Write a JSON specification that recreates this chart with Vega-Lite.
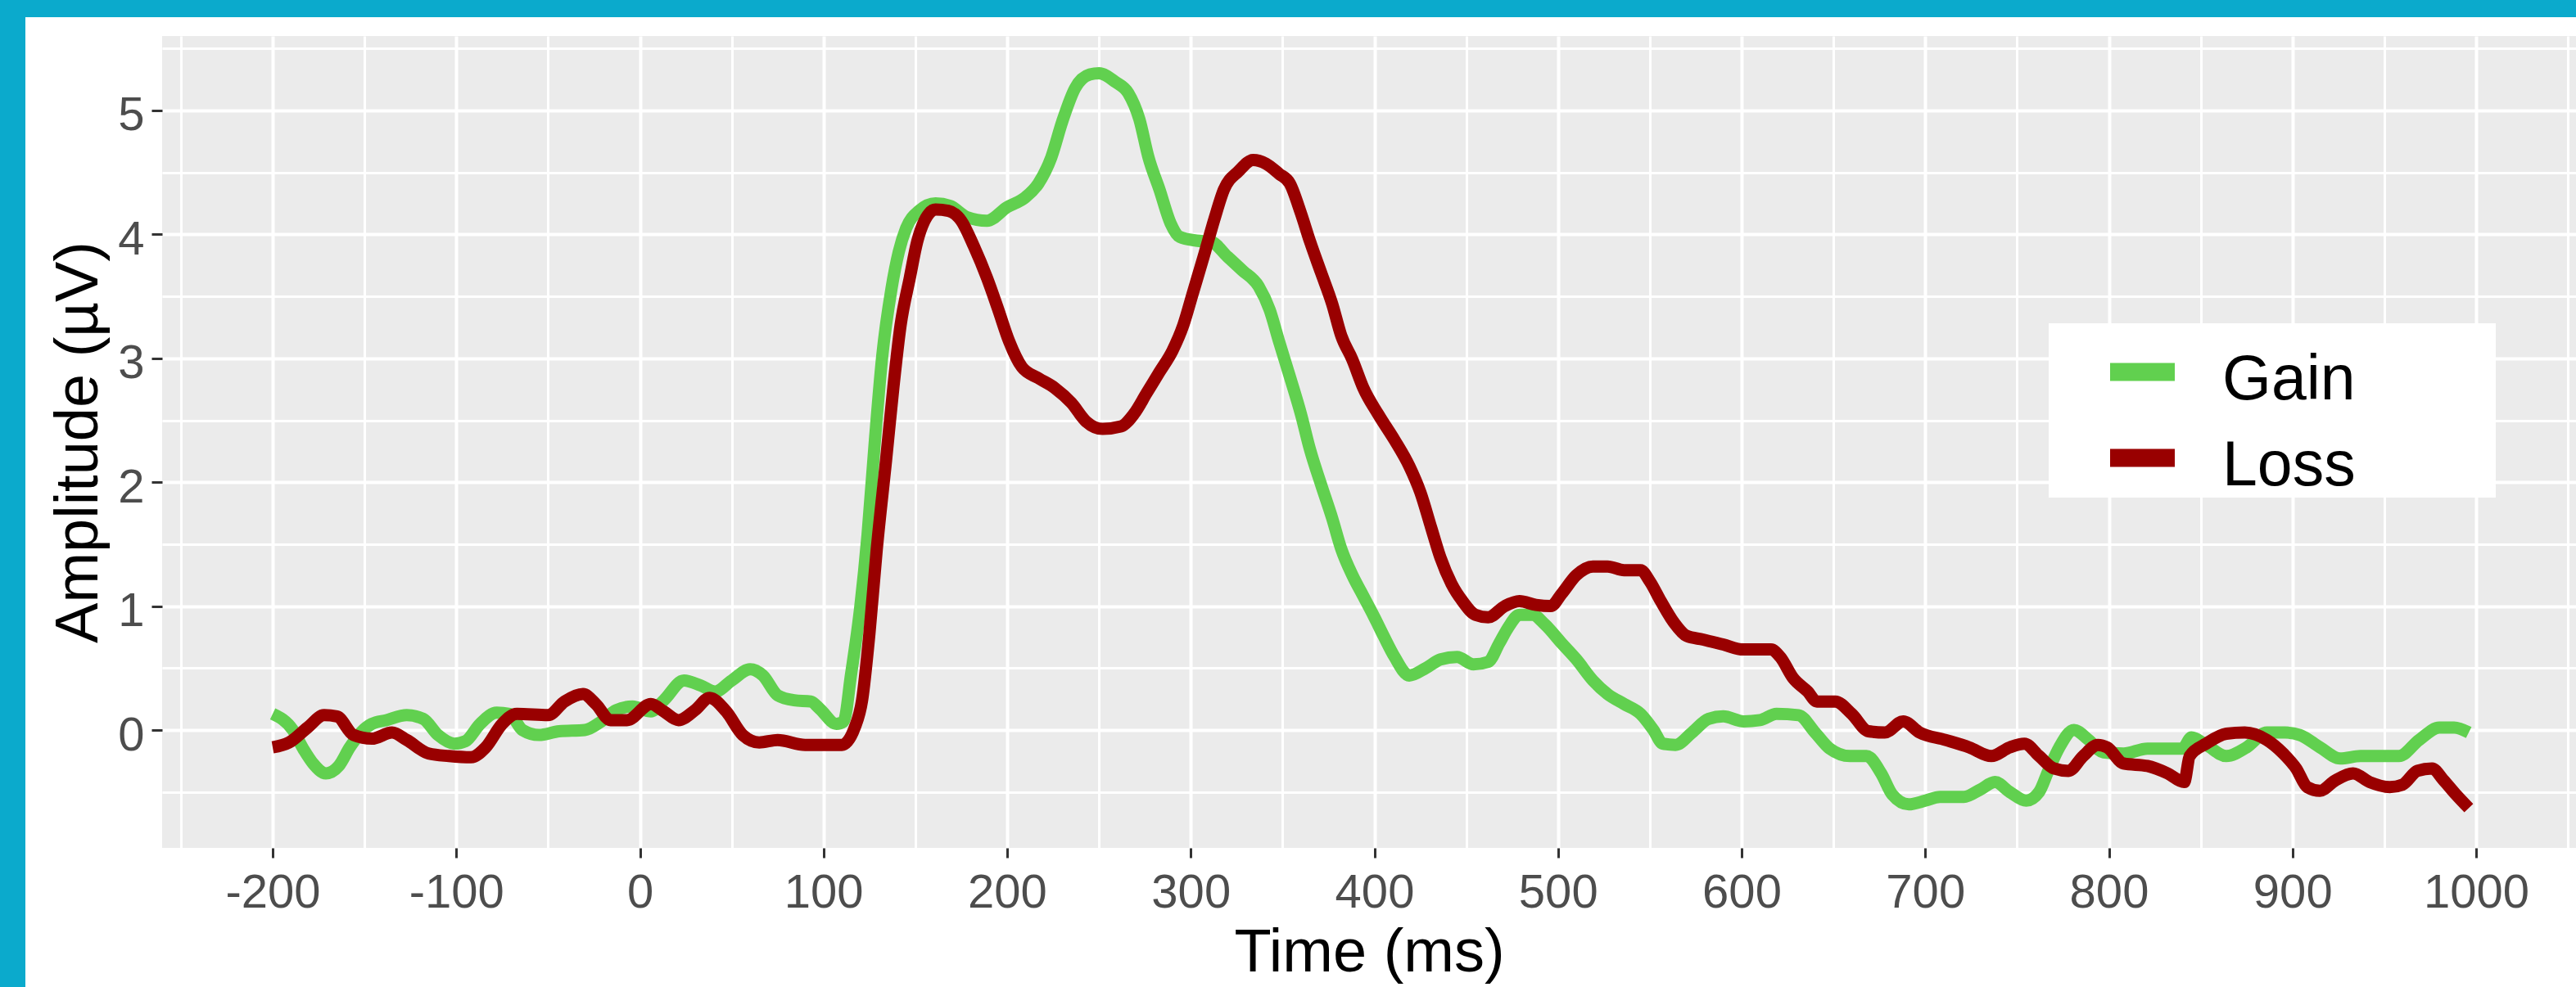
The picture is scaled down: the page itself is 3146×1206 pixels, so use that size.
{
  "$schema": "https://vega.github.io/schema/vega-lite/v6.json",
  "width": 2948,
  "height": 992,
  "autosize": "none",
  "padding": {"left": 198, "top": 44, "right": 0, "bottom": 170},
  "background": "white",
  "config": {
    "view": {"fill": "#EBEBEB", "stroke": null},
    "font": "Liberation Sans"
  },
  "datasets": {
    "erp": [
      {"c":"Gain","t":-200,"v":0.13},{"c":"Gain","t":-189,"v":0.00},{"c":"Gain","t":-183,"v":-0.16},{"c":"Gain","t":-178,"v":-0.27},{"c":"Gain","t":-171,"v":-0.35},{"c":"Gain","t":-164,"v":-0.29},{"c":"Gain","t":-158,"v":-0.14},{"c":"Gain","t":-152,"v":-0.02},{"c":"Gain","t":-146,"v":0.05},{"c":"Gain","t":-138,"v":0.08},{"c":"Gain","t":-127,"v":0.12},{"c":"Gain","t":-118,"v":0.09},{"c":"Gain","t":-110,"v":-0.04},{"c":"Gain","t":-101,"v":-0.11},{"c":"Gain","t":-95,"v":-0.09},{"c":"Gain","t":-87,"v":0.05},{"c":"Gain","t":-78,"v":0.14},{"c":"Gain","t":-71,"v":0.13},{"c":"Gain","t":-64,"v":0.00},{"c":"Gain","t":-55,"v":-0.04},{"c":"Gain","t":-44,"v":-0.01},{"c":"Gain","t":-30,"v":0.00},{"c":"Gain","t":-21,"v":0.07},{"c":"Gain","t":-13,"v":0.16},{"c":"Gain","t":-4,"v":0.19},{"c":"Gain","t":6,"v":0.15},{"c":"Gain","t":13,"v":0.24},{"c":"Gain","t":24,"v":0.40},{"c":"Gain","t":33,"v":0.36},{"c":"Gain","t":41,"v":0.31},{"c":"Gain","t":50,"v":0.40},{"c":"Gain","t":60,"v":0.49},{"c":"Gain","t":67,"v":0.44},{"c":"Gain","t":75,"v":0.28},{"c":"Gain","t":84,"v":0.24},{"c":"Gain","t":93,"v":0.23},{"c":"Gain","t":98,"v":0.17},{"c":"Gain","t":107,"v":0.05},{"c":"Gain","t":111,"v":0.07},{"c":"Gain","t":115,"v":0.45},{"c":"Gain","t":120,"v":0.99},{"c":"Gain","t":124,"v":1.58},{"c":"Gain","t":128,"v":2.34},{"c":"Gain","t":132,"v":3.02},{"c":"Gain","t":137,"v":3.56},{"c":"Gain","t":141,"v":3.86},{"c":"Gain","t":145,"v":4.05},{"c":"Gain","t":152,"v":4.19},{"c":"Gain","t":161,"v":4.25},{"c":"Gain","t":169,"v":4.23},{"c":"Gain","t":178,"v":4.14},{"c":"Gain","t":189,"v":4.11},{"c":"Gain","t":200,"v":4.22},{"c":"Gain","t":210,"v":4.30},{"c":"Gain","t":217,"v":4.41},{"c":"Gain","t":224,"v":4.62},{"c":"Gain","t":230,"v":4.91},{"c":"Gain","t":237,"v":5.18},{"c":"Gain","t":245,"v":5.29},{"c":"Gain","t":250,"v":5.30},{"c":"Gain","t":259,"v":5.23},{"c":"Gain","t":266,"v":5.14},{"c":"Gain","t":272,"v":4.93},{"c":"Gain","t":277,"v":4.62},{"c":"Gain","t":283,"v":4.36},{"c":"Gain","t":289,"v":4.09},{"c":"Gain","t":294,"v":3.98},{"c":"Gain","t":303,"v":3.95},{"c":"Gain","t":311,"v":3.94},{"c":"Gain","t":320,"v":3.82},{"c":"Gain","t":328,"v":3.71},{"c":"Gain","t":337,"v":3.58},{"c":"Gain","t":343,"v":3.39},{"c":"Gain","t":348,"v":3.14},{"c":"Gain","t":354,"v":2.85},{"c":"Gain","t":360,"v":2.55},{"c":"Gain","t":365,"v":2.26},{"c":"Gain","t":371,"v":1.98},{"c":"Gain","t":377,"v":1.71},{"c":"Gain","t":382,"v":1.46},{"c":"Gain","t":388,"v":1.25},{"c":"Gain","t":394,"v":1.08},{"c":"Gain","t":400,"v":0.91},{"c":"Gain","t":405,"v":0.76},{"c":"Gain","t":411,"v":0.59},{"c":"Gain","t":419,"v":0.44},{"c":"Gain","t":428,"v":0.50},{"c":"Gain","t":436,"v":0.57},{"c":"Gain","t":445,"v":0.59},{"c":"Gain","t":454,"v":0.53},{"c":"Gain","t":462,"v":0.55},{"c":"Gain","t":468,"v":0.70},{"c":"Gain","t":473,"v":0.83},{"c":"Gain","t":479,"v":0.93},{"c":"Gain","t":486,"v":0.93},{"c":"Gain","t":493,"v":0.85},{"c":"Gain","t":502,"v":0.70},{"c":"Gain","t":510,"v":0.57},{"c":"Gain","t":519,"v":0.40},{"c":"Gain","t":527,"v":0.29},{"c":"Gain","t":536,"v":0.21},{"c":"Gain","t":545,"v":0.13},{"c":"Gain","t":552,"v":0.00},{"c":"Gain","t":557,"v":-0.11},{"c":"Gain","t":564,"v":-0.12},{"c":"Gain","t":573,"v":-0.02},{"c":"Gain","t":582,"v":0.09},{"c":"Gain","t":590,"v":0.11},{"c":"Gain","t":601,"v":0.07},{"c":"Gain","t":610,"v":0.08},{"c":"Gain","t":619,"v":0.13},{"c":"Gain","t":631,"v":0.12},{"c":"Gain","t":640,"v":-0.02},{"c":"Gain","t":648,"v":-0.15},{"c":"Gain","t":659,"v":-0.21},{"c":"Gain","t":668,"v":-0.21},{"c":"Gain","t":676,"v":-0.35},{"c":"Gain","t":682,"v":-0.52},{"c":"Gain","t":691,"v":-0.60},{"c":"Gain","t":700,"v":-0.57},{"c":"Gain","t":708,"v":-0.54},{"c":"Gain","t":721,"v":-0.54},{"c":"Gain","t":730,"v":-0.48},{"c":"Gain","t":738,"v":-0.42},{"c":"Gain","t":746,"v":-0.50},{"c":"Gain","t":755,"v":-0.57},{"c":"Gain","t":762,"v":-0.50},{"c":"Gain","t":767,"v":-0.33},{"c":"Gain","t":773,"v":-0.14},{"c":"Gain","t":781,"v":0.00},{"c":"Gain","t":789,"v":-0.08},{"c":"Gain","t":797,"v":-0.18},{"c":"Gain","t":808,"v":-0.19},{"c":"Gain","t":821,"v":-0.15},{"c":"Gain","t":840,"v":-0.15},{"c":"Gain","t":845,"v":-0.06},{"c":"Gain","t":853,"v":-0.12},{"c":"Gain","t":864,"v":-0.21},{"c":"Gain","t":875,"v":-0.14},{"c":"Gain","t":886,"v":-0.02},{"c":"Gain","t":896,"v":-0.02},{"c":"Gain","t":904,"v":-0.04},{"c":"Gain","t":915,"v":-0.14},{"c":"Gain","t":926,"v":-0.23},{"c":"Gain","t":937,"v":-0.21},{"c":"Gain","t":950,"v":-0.21},{"c":"Gain","t":958,"v":-0.21},{"c":"Gain","t":969,"v":-0.08},{"c":"Gain","t":980,"v":0.02},{"c":"Gain","t":988,"v":0.02},{"c":"Gain","t":996,"v":-0.02},
      {"c":"Loss","t":-200,"v":-0.14},{"c":"Loss","t":-191,"v":-0.10},{"c":"Loss","t":-181,"v":0.02},{"c":"Loss","t":-172,"v":0.12},{"c":"Loss","t":-165,"v":0.11},{"c":"Loss","t":-156,"v":-0.04},{"c":"Loss","t":-146,"v":-0.07},{"c":"Loss","t":-135,"v":-0.02},{"c":"Loss","t":-127,"v":-0.08},{"c":"Loss","t":-115,"v":-0.19},{"c":"Loss","t":-104,"v":-0.21},{"c":"Loss","t":-92,"v":-0.22},{"c":"Loss","t":-84,"v":-0.14},{"c":"Loss","t":-75,"v":0.05},{"c":"Loss","t":-67,"v":0.13},{"c":"Loss","t":-50,"v":0.12},{"c":"Loss","t":-41,"v":0.23},{"c":"Loss","t":-31,"v":0.29},{"c":"Loss","t":-24,"v":0.21},{"c":"Loss","t":-16,"v":0.08},{"c":"Loss","t":-7,"v":0.08},{"c":"Loss","t":6,"v":0.21},{"c":"Loss","t":13,"v":0.15},{"c":"Loss","t":21,"v":0.08},{"c":"Loss","t":30,"v":0.16},{"c":"Loss","t":38,"v":0.26},{"c":"Loss","t":47,"v":0.15},{"c":"Loss","t":56,"v":-0.04},{"c":"Loss","t":65,"v":-0.10},{"c":"Loss","t":75,"v":-0.08},{"c":"Loss","t":90,"v":-0.12},{"c":"Loss","t":110,"v":-0.12},{"c":"Loss","t":117,"v":0.02},{"c":"Loss","t":121,"v":0.24},{"c":"Loss","t":125,"v":0.78},{"c":"Loss","t":129,"v":1.46},{"c":"Loss","t":134,"v":2.17},{"c":"Loss","t":138,"v":2.76},{"c":"Loss","t":142,"v":3.27},{"c":"Loss","t":147,"v":3.65},{"c":"Loss","t":151,"v":3.94},{"c":"Loss","t":155,"v":4.11},{"c":"Loss","t":161,"v":4.20},{"c":"Loss","t":168,"v":4.19},{"c":"Loss","t":175,"v":4.11},{"c":"Loss","t":182,"v":3.90},{"c":"Loss","t":189,"v":3.65},{"c":"Loss","t":195,"v":3.40},{"c":"Loss","t":201,"v":3.14},{"c":"Loss","t":208,"v":2.93},{"c":"Loss","t":217,"v":2.84},{"c":"Loss","t":226,"v":2.76},{"c":"Loss","t":235,"v":2.64},{"c":"Loss","t":243,"v":2.49},{"c":"Loss","t":252,"v":2.43},{"c":"Loss","t":262,"v":2.45},{"c":"Loss","t":269,"v":2.55},{"c":"Loss","t":276,"v":2.72},{"c":"Loss","t":283,"v":2.89},{"c":"Loss","t":290,"v":3.06},{"c":"Loss","t":296,"v":3.27},{"c":"Loss","t":301,"v":3.52},{"c":"Loss","t":307,"v":3.82},{"c":"Loss","t":313,"v":4.13},{"c":"Loss","t":318,"v":4.36},{"c":"Loss","t":326,"v":4.51},{"c":"Loss","t":334,"v":4.60},{"c":"Loss","t":341,"v":4.57},{"c":"Loss","t":348,"v":4.49},{"c":"Loss","t":354,"v":4.41},{"c":"Loss","t":360,"v":4.17},{"c":"Loss","t":365,"v":3.94},{"c":"Loss","t":371,"v":3.69},{"c":"Loss","t":377,"v":3.44},{"c":"Loss","t":382,"v":3.18},{"c":"Loss","t":388,"v":2.99},{"c":"Loss","t":394,"v":2.76},{"c":"Loss","t":402,"v":2.55},{"c":"Loss","t":411,"v":2.34},{"c":"Loss","t":419,"v":2.13},{"c":"Loss","t":425,"v":1.92},{"c":"Loss","t":431,"v":1.63},{"c":"Loss","t":436,"v":1.39},{"c":"Loss","t":442,"v":1.18},{"c":"Loss","t":448,"v":1.04},{"c":"Loss","t":455,"v":0.93},{"c":"Loss","t":462,"v":0.91},{"c":"Loss","t":471,"v":1.00},{"c":"Loss","t":479,"v":1.04},{"c":"Loss","t":488,"v":1.01},{"c":"Loss","t":496,"v":1.00},{"c":"Loss","t":502,"v":1.10},{"c":"Loss","t":510,"v":1.25},{"c":"Loss","t":519,"v":1.32},{"c":"Loss","t":527,"v":1.32},{"c":"Loss","t":536,"v":1.29},{"c":"Loss","t":545,"v":1.29},{"c":"Loss","t":550,"v":1.20},{"c":"Loss","t":556,"v":1.04},{"c":"Loss","t":563,"v":0.87},{"c":"Loss","t":570,"v":0.76},{"c":"Loss","t":579,"v":0.73},{"c":"Loss","t":590,"v":0.69},{"c":"Loss","t":601,"v":0.65},{"c":"Loss","t":616,"v":0.65},{"c":"Loss","t":621,"v":0.59},{"c":"Loss","t":628,"v":0.42},{"c":"Loss","t":636,"v":0.31},{"c":"Loss","t":641,"v":0.23},{"c":"Loss","t":651,"v":0.23},{"c":"Loss","t":660,"v":0.13},{"c":"Loss","t":669,"v":-0.01},{"c":"Loss","t":678,"v":-0.02},{"c":"Loss","t":688,"v":0.07},{"c":"Loss","t":697,"v":-0.02},{"c":"Loss","t":711,"v":-0.08},{"c":"Loss","t":724,"v":-0.14},{"c":"Loss","t":736,"v":-0.21},{"c":"Loss","t":746,"v":-0.14},{"c":"Loss","t":754,"v":-0.11},{"c":"Loss","t":762,"v":-0.21},{"c":"Loss","t":770,"v":-0.31},{"c":"Loss","t":778,"v":-0.33},{"c":"Loss","t":786,"v":-0.21},{"c":"Loss","t":794,"v":-0.12},{"c":"Loss","t":799,"v":-0.14},{"c":"Loss","t":808,"v":-0.27},{"c":"Loss","t":821,"v":-0.29},{"c":"Loss","t":832,"v":-0.35},{"c":"Loss","t":841,"v":-0.42},{"c":"Loss","t":844,"v":-0.21},{"c":"Loss","t":853,"v":-0.11},{"c":"Loss","t":864,"v":-0.03},{"c":"Loss","t":874,"v":-0.02},{"c":"Loss","t":886,"v":-0.08},{"c":"Loss","t":895,"v":-0.19},{"c":"Loss","t":902,"v":-0.31},{"c":"Loss","t":908,"v":-0.46},{"c":"Loss","t":915,"v":-0.49},{"c":"Loss","t":923,"v":-0.41},{"c":"Loss","t":933,"v":-0.35},{"c":"Loss","t":942,"v":-0.42},{"c":"Loss","t":953,"v":-0.46},{"c":"Loss","t":960,"v":-0.44},{"c":"Loss","t":968,"v":-0.33},{"c":"Loss","t":976,"v":-0.31},{"c":"Loss","t":982,"v":-0.40},{"c":"Loss","t":989,"v":-0.52},{"c":"Loss","t":996,"v":-0.63}
    ]
  },
  "layer": [
    {
      "data": {"name": "erp"},
      "mark": {"type": "line", "opacity": 0},
      "encoding": {
        "x": {"field": "t", "type": "quantitative",
          "scale": {"domain": [-260.2, 1054.4], "nice": false, "zero": false},
          "axis": {"orient": "bottom", "values": [-250,-150,-50,50,150,250,350,450,550,650,750,850,950,1050],
            "grid": true, "gridColor": "white", "gridWidth": 3, "labels": false, "ticks": false, "domain": false, "title": null}},
        "y": {"field": "v", "type": "quantitative",
          "scale": {"domain": [-0.951, 5.601], "nice": false, "zero": false},
          "axis": {"orient": "left", "values": [-0.5,0.5,1.5,2.5,3.5,4.5,5.5],
            "grid": true, "gridColor": "white", "gridWidth": 3, "labels": false, "ticks": false, "domain": false, "title": null}}
      }
    },
    {
      "data": {"name": "erp"},
      "mark": {"type": "line", "strokeWidth": 15, "interpolate": "monotone", "strokeJoin": "round"},
      "encoding": {
        "x": {"field": "t", "type": "quantitative",
          "scale": {"domain": [-260.2, 1054.4], "nice": false, "zero": false},
          "axis": {"orient": "bottom", "values": [-200,-100,0,100,200,300,400,500,600,700,800,900,1000],
            "labelExpr": "'' + datum.value", "labelFlush": false, "labelOverlap": false,
            "grid": true, "gridColor": "white", "gridWidth": 4, "domain": false,
            "ticks": true, "tickColor": "#333333", "tickSize": 12, "tickWidth": 3,
            "labelFont": "Liberation Sans", "labelFontSize": 58, "labelColor": "#4D4D4D", "labelPadding": 14,
            "title": "Time (ms)", "titleFont": "Liberation Sans", "titleFontSize": 74, "titleFontWeight": "normal", "titleColor": "black", "titlePadding": 8}},
        "y": {"field": "v", "type": "quantitative",
          "scale": {"domain": [-0.951, 5.601], "nice": false, "zero": false},
          "axis": {"orient": "left", "values": [0,1,2,3,4,5],
            "labelExpr": "'' + datum.value", "labelFlush": false, "labelOverlap": false,
            "grid": true, "gridColor": "white", "gridWidth": 4, "domain": false,
            "ticks": true, "tickColor": "#333333", "tickSize": 13, "tickWidth": 3,
            "labelFont": "Liberation Sans", "labelFontSize": 58, "labelColor": "#4D4D4D", "labelPadding": 9, "labelOffset": 7,
            "title": "Amplitude (µV)", "titleFont": "Liberation Sans", "titleFontSize": 74, "titleFontWeight": "normal", "titleColor": "black", "titlePadding": 9}},
        "color": {"field": "c", "type": "nominal",
          "scale": {"domain": ["Gain", "Loss"], "range": ["#61D04F", "#990000"]},
          "legend": {"orient": "none", "legendX": 2304, "legendY": 351, "direction": "vertical",
            "title": "\u00a0", "titleFontSize": 20, "titlePadding": 11,
            "padding": 0, "fillColor": "white",
            "symbolType": "M-2,-0.506L2,-0.506", "symbolSize": 1560, "symbolStrokeWidth": 22, "symbolOffset": 76,
            "labelOffset": 59, "labelFont": "Liberation Sans", "labelFontSize": 77, "labelColor": "black", "labelLimit": 2000,
            "rowPadding": 12,
            "labelExpr": "datum.label + '\u00a0\u00a0\u00a0\u00a0\u00a0\u00a0\u00a0\u00a0\u200b'",
            "encode": {"symbols": {"update": {"strokeWidth": {"value": 22}}}}}}
      }
    },
    {
      "data": {"values": [{}]},
      "mark": {"type": "rect", "color": "#0BAACC", "clip": false},
      "encoding": {
        "x": {"datum": -400, "type": "quantitative", "scale": {"domain": [-260.2, 1054.4], "nice": false, "zero": false}, "axis": null},
        "x2": {"datum": 1200},
        "y": {"datum": 5.753, "type": "quantitative", "scale": {"domain": [-0.951, 5.601], "nice": false, "zero": false}, "axis": null},
        "y2": {"datum": 7}
      }
    },
    {
      "data": {"values": [{}]},
      "mark": {"type": "rect", "color": "#0BAACC", "clip": false},
      "encoding": {
        "x": {"datum": -400, "type": "quantitative", "scale": {"domain": [-260.2, 1054.4], "nice": false, "zero": false}, "axis": null},
        "x2": {"datum": -334.67},
        "y": {"datum": -3, "type": "quantitative", "scale": {"domain": [-0.951, 5.601], "nice": false, "zero": false}, "axis": null},
        "y2": {"datum": 7}
      }
    }
  ],
  "resolve": {"axis": {"x": "independent", "y": "independent"}}
}
